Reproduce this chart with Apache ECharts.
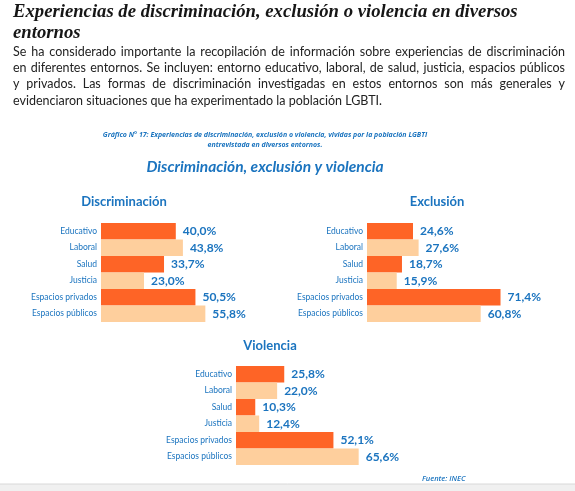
<!DOCTYPE html>
<html>
<head>
<meta charset="utf-8">
<script src="https://cdn.jsdelivr.net/npm/echarts@6/dist/echarts.min.js"></script>
<style>
  html, body { margin: 0; padding: 0; background: #fff; }
  #chart { width: 575px; height: 491px; }
</style>
</head>
<body>
<div id="chart"></div>
<script>
const categories = ['Educativo', 'Laboral', 'Salud', 'Justicia', 'Espacios privados', 'Espacios públicos']
const discriminacion = [40.0, 43.8, 33.7, 23.0, 50.5, 55.8]
const exclusion = [24.6, 27.6, 18.7, 15.9, 71.4, 60.8]
const violencia = [25.8, 22.0, 10.3, 12.4, 52.1, 65.6]
const panelTitles = ['Discriminación', 'Exclusión', 'Violencia']

const headerLines = ['Experiencias de discriminación, exclusión o violencia en diversos', 'entornos']
const paragraphLines = [
  'Se ha considerado importante la recopilación de información sobre experiencias de discriminación',
  'en diferentes entornos. Se incluyen: entorno educativo, laboral, de salud, justicia, espacios públicos',
  'y privados.  Las formas de discriminación investigadas en estos entornos son más generales y',
  'evidenciaron situaciones que ha experimentado la población LGBTI.'
]
const subtitleLines = [
  'Gráfico N° 17: Experiencias de discriminación, exclusión o violencia, vividas por la población LGBTI',
  'entrevistada en diversos entornos.'
]
const mainTitle = 'Discriminación, exclusión y violencia'
const sourceText = 'Fuente: INEC'

const BLUE = '#1b74bf'
const DARK = '#fe6426'
const LIGHT = '#fecf9d'

const chart = echarts.init(document.getElementById('chart'))

// texto justificado: se coloca palabra por palabra
const ctx = document.createElement('canvas').getContext('2d')
const paraFont = '12.5px Lato'
ctx.font = paraFont
const justifyLine = (line, y, x0, x1, last) => {
  const words = line.split(/\s+/)
  const widths = words.map(w => ctx.measureText(w).width)
  const total = widths.reduce((a, b) => a + b, 0)
  const space = ctx.measureText(' ').width
  const gap = last ? space : (x1 - x0 - total) / (words.length - 1)
  const out = []
  let x = x0
  words.forEach((w, i) => {
    out.push({ type: 'text', x: x, y: y, silent: true,
      style: { text: w, font: paraFont, fill: '#222', textVerticalAlign: 'middle' } })
    x += widths[i] + gap
  })
  return out
}

const graphics = []
headerLines.forEach((t, i) => {
  graphics.push({ type: 'text', x: 13, y: 12 + i * 21, silent: true,
    style: { text: t, font: 'italic bold 18.7px "Liberation Serif"', fill: '#161616', textVerticalAlign: 'middle' } })
})
paragraphLines.forEach((t, i) => {
  graphics.push(...justifyLine(t, 52 + i * 16.2, 13, 565, i === paragraphLines.length - 1))
})
subtitleLines.forEach((t, i) => {
  graphics.push({ type: 'text', x: 265, y: 135 + i * 9.5, silent: true,
    style: { text: t, font: 'italic bold 7px "Open Sans"', fill: BLUE, textAlign: 'center', textVerticalAlign: 'middle' } })
})
graphics.push({ type: 'text', x: 265, y: 167, silent: true,
  style: { text: mainTitle, font: 'italic bold 15.5px Lato', fill: BLUE, textAlign: 'center', textVerticalAlign: 'middle' } })
graphics.push({ type: 'text', x: 422, y: 479, silent: true,
  style: { text: sourceText, font: 'italic 600 7.5px "Open Sans"', fill: BLUE, textVerticalAlign: 'middle' } })
// borde inferior de la página
graphics.push({ type: 'rect', silent: true, shape: { x: -1, y: 484, width: 577, height: 8 },
  style: { fill: '#f0f0f0', stroke: '#d8d8d8', lineWidth: 1 } })

const grids = [
  { left: 101, top: 223, width: 187, height: 99 },
  { left: 367, top: 223, width: 187, height: 99 },
  { left: 236, top: 366, width: 187, height: 99 }
]
const titlePos = [[124, 202], [437, 202], [270, 346]]
titlePos.forEach((p, i) => {
  graphics.push({ type: 'text', x: p[0], y: p[1], silent: true,
    style: { text: panelTitles[i], font: 'bold 13px Lato', fill: BLUE, textAlign: 'center', textVerticalAlign: 'middle' } })
})

const fmt = (v) => v.toFixed(1).replace('.', ',') + '%'
const seriesData = [discriminacion, exclusion, violencia]

const options = {
  animation: false,
  grid: grids.map(g => ({ ...g, containLabel: false })),
  xAxis: grids.map((g, i) => ({
    type: 'value', gridIndex: i, min: 0, max: 100, show: false
  })),
  yAxis: grids.map((g, i) => ({
    type: 'category', gridIndex: i, data: categories, inverse: true,
    axisLine: { show: false },
    axisTick: { show: false },
    axisLabel: { color: BLUE, fontSize: 8.5, fontFamily: 'Lato', margin: 4 }
  })),
  series: seriesData.map((d, i) => ({
    type: 'bar',
    xAxisIndex: i,
    yAxisIndex: i,
    barCategoryGap: '0%',
    data: d.map((v, j) => ({ value: v, itemStyle: { color: j % 2 === 0 ? DARK : LIGHT } })),
    label: {
      show: true,
      position: 'right',
      distance: 7,
      color: BLUE,
      fontSize: 12,
      fontWeight: 'bold',
      fontFamily: 'Lato',
      formatter: (p) => fmt(p.value)
    }
  })),
  graphic: graphics
}

chart.setOption(options)
</script>
</body>
</html>
